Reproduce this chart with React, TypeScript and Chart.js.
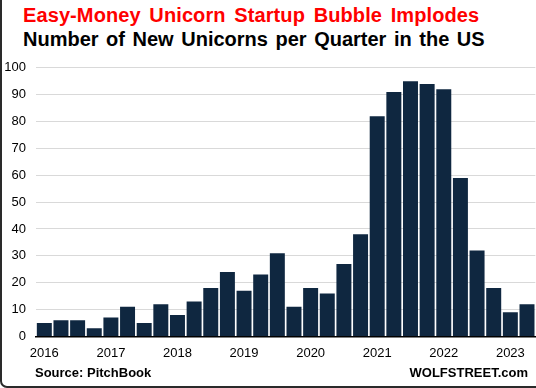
import React, { useEffect, useRef } from "react";
import { Chart, registerables } from "chart.js";

Chart.register(...registerables);

const quarters = [
  "2016 Q1", "2016 Q2", "2016 Q3", "2016 Q4",
  "2017 Q1", "2017 Q2", "2017 Q3", "2017 Q4",
  "2018 Q1", "2018 Q2", "2018 Q3", "2018 Q4",
  "2019 Q1", "2019 Q2", "2019 Q3", "2019 Q4",
  "2020 Q1", "2020 Q2", "2020 Q3", "2020 Q4",
  "2021 Q1", "2021 Q2", "2021 Q3", "2021 Q4",
  "2022 Q1", "2022 Q2", "2022 Q3", "2022 Q4",
  "2023 Q1", "2023 Q2",
];

const newUnicorns = [
  5, 6, 6, 3,
  7, 11, 5, 12,
  8, 13, 18, 24,
  17, 23, 31, 11,
  18, 16, 27, 38,
  82, 91, 95, 94,
  92, 59, 32, 18,
  9, 12,
];

const yTicks = [0, 10, 20, 30, 40, 50, 60, 70, 80, 90, 100];

const titleText = "Easy-Money Unicorn Startup Bubble Implodes";
const subtitleText = "Number of New Unicorns per Quarter in the US";
const sourceText = "Source: PitchBook";
const brandText = "WOLFSTREET.com";

const FONT = "'Liberation Sans', Arial, Helvetica, sans-serif";

export default function App() {
  const canvasRef = useRef<HTMLCanvasElement | null>(null);

  useEffect(() => {
    document.body.style.margin = "0";
    const canvas = canvasRef.current;
    if (!canvas) return;
    const chart = new Chart(canvas, {
      type: "bar",
      data: {
        labels: quarters,
        datasets: [
          {
            label: "New unicorns",
            data: newUnicorns,
            backgroundColor: "#0f2740",
            borderWidth: 0,
            barPercentage: 0.9,
            categoryPercentage: 1,
          },
        ],
      },
      options: {
        animation: false,
        responsive: false,
        maintainAspectRatio: false,
        layout: { padding: { top: 6.5, right: 0, left: 0, bottom: 0 } },
        plugins: {
          legend: { display: false },
          tooltip: { enabled: false },
          title: { display: false },
        },
        scales: {
          x: {
            type: "category",
            grid: { display: false, drawTicks: false },
            border: { display: true, color: "#000", width: 1.5 },
            ticks: {
              autoSkip: false,
              maxRotation: 0,
              minRotation: 0,
              padding: 9,
              color: "#000",
              font: { family: FONT, size: 13 },
              callback: (_v: any, i: number) =>
                i % 4 === 0 ? quarters[i].slice(0, 4) : "",
            },
          },
          y: {
            min: 0,
            max: 100,
            afterFit: (scale: any) => {
              scale.width = 36;
            },
            afterBuildTicks: (scale: any) => {
              scale.ticks = yTicks.map((v) => ({ value: v }));
            },
            grid: { color: "#d9d9d9", lineWidth: 1, drawTicks: false },
            border: { display: false },
            ticks: {
              padding: 10,
              color: "#000",
              font: { family: FONT, size: 13 },
            },
          },
        },
      },
    });
    return () => chart.destroy();
  }, []);

  return (
    <div
      style={{
        position: "fixed",
        left: 0,
        top: 0,
        width: 536,
        height: 388,
        background: "#fff",
        overflow: "hidden",
        fontFamily: FONT,
      }}
    >
      <div
        style={{
          position: "absolute",
          left: 0,
          top: -20,
          width: 570,
          height: 408,
          boxSizing: "border-box",
          border: "2px solid #2a2a2a",
          borderRadius: 7,
        }}
      />
      <div
        style={{
          position: "absolute",
          left: 23,
          top: 5,
          fontSize: 20,
          lineHeight: "20px",
          fontWeight: "bold",
          color: "#ff0000",
          whiteSpace: "nowrap",
          wordSpacing: 3,
          letterSpacing: 0.1,
        }}
      >
        {titleText}
      </div>
      <div
        style={{
          position: "absolute",
          left: 23,
          top: 29,
          fontSize: 20,
          lineHeight: "20px",
          fontWeight: "bold",
          color: "#000",
          whiteSpace: "nowrap",
          wordSpacing: 2,
        }}
      >
        {subtitleText}
      </div>
      <canvas
        ref={canvasRef}
        width={536}
        height={320}
        style={{ position: "absolute", left: 0, top: 50, width: 536, height: 320 }}
      />
      <div
        style={{
          position: "absolute",
          left: 35,
          top: 366,
          fontSize: 13,
          lineHeight: "13px",
          fontWeight: "bold",
          color: "#000",
          whiteSpace: "nowrap",
        }}
      >
        {sourceText}
      </div>
      <div
        style={{
          position: "absolute",
          right: 8,
          top: 366,
          fontSize: 13,
          lineHeight: "13px",
          fontWeight: "bold",
          color: "#000",
          whiteSpace: "nowrap",
        }}
      >
        {brandText}
      </div>
    </div>
  );
}
